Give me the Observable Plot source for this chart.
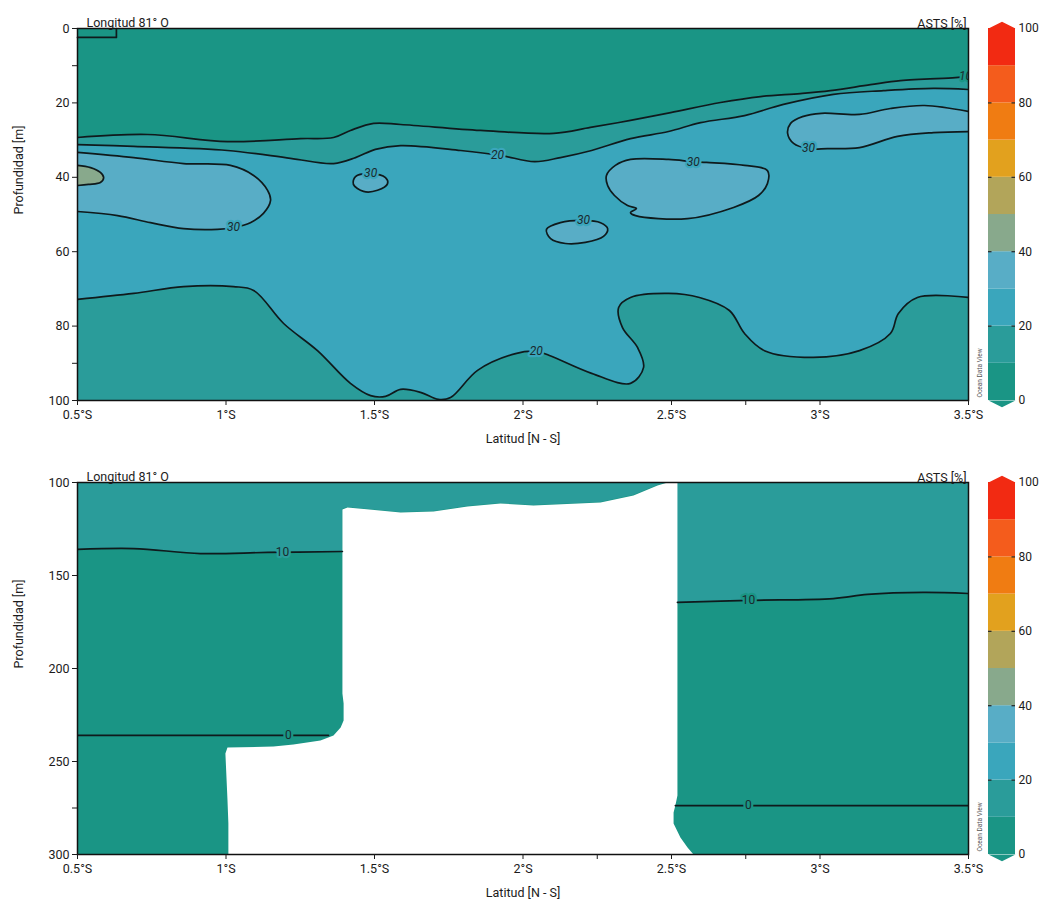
<!DOCTYPE html>
<html>
<head>
<meta charset="utf-8">
<script src="https://cdn.jsdelivr.net/npm/d3@7"></script>
<script src="https://cdn.jsdelivr.net/npm/@observablehq/plot@0.6"></script>
<style>
  body { margin: 0; background: #fff; }
  #wrap { position: relative; width: 1041px; height: 905px; overflow: hidden; }
  #wrap svg { position: absolute; overflow: visible; }
</style>
</head>
<body>
<div id="wrap"></div>
<script>
// ---------- scale / colour definitions ----------
const FONT = "Roboto, 'Noto Sans', 'DejaVu Sans', sans-serif";
const binEdges = [0, 10, 20, 30, 40, 50, 60, 70, 80, 90, 100];
const binColors = ["#1a9585", "#2a9c9a", "#3aa6bc", "#58adc6", "#88a98c", "#b2a55a", "#e2a11e", "#f07c12", "#f45c1c", "#f22a12"];
const cbTicks = [0, 20, 40, 60, 80, 100];

const latTicks = [0.5, 1, 1.5, 2, 2.25, 2.5, 2.75, 3, 3.5];
const latLabelled = [0.5, 1, 1.5, 2, 2.5, 3, 3.5];
const depthTicksTop = [0, 10, 20, 40, 60, 80, 90, 100];
const depthLabelsTop = [0, 20, 40, 60, 80, 100];
const depthTicksBot = [100, 150, 200, 250, 275, 300];
const depthLabelsBot = [100, 150, 200, 250, 300];

// ---------- upper section (0-100 m): contours as [lat °S, depth m] ----------
const top10 = [[0.5,29.3],[0.736,28.5],[1.005,30.4],[1.251,29.6],[1.362,29.3],[1.419,27.4],[1.497,25.5],[1.588,25.8],[1.857,27.4],[2.103,28.2],[2.227,26.6],[2.362,24.7],[2.497,22.6],[2.665,19.9],[2.800,18.3],[2.934,17.5],[3.035,16.7],[3.170,15.1],[3.271,14.0],[3.456,13.2],[3.5,12.9]];
const top20 = [[0.5,31.2],[0.689,31.7],[1.005,32.8],[1.217,34.9],[1.362,36.3],[1.436,34.7],[1.503,32.5],[1.588,31.5],[1.790,32.8],[1.924,34.1],[2.039,35.8],[2.126,34.7],[2.231,32.8],[2.362,29.6],[2.490,27.7],[2.598,25.3],[2.746,23.4],[2.877,20.4],[3.045,17.7],[3.214,16.7],[3.382,16.1],[3.5,16.4]];
const top20deep = [[0.5,72.8],[0.689,71.2],[0.857,69.4],[1.025,69.4],[1.093,70.4],[1.194,79.3],[1.308,86.6],[1.419,95.4],[1.487,98.7],[1.537,98.9],[1.588,97.0],[1.655,97.8],[1.715,99.7],[1.756,99.2],[1.847,91.9],[1.975,87.4],[2.045,86.8],[2.089,87.9],[2.231,92.7],[2.362,95.4],[2.406,91.1],[2.386,85.8],[2.335,80.4],[2.322,75.0],[2.362,72.3],[2.490,71.2],[2.594,72.3],[2.695,75.8],[2.746,82.0],[2.813,86.6],[2.978,88.4],[3.133,86.6],[3.237,82.0],[3.264,76.6],[3.328,72.3],[3.5,72.3]];
const top30west = [[0.5,33.3],[0.689,34.7],[0.857,36.3],[1.015,36.8],[1.093,39.5],[1.140,43.5],[1.150,46.2],[1.126,49.7],[1.082,52.2],[1.025,53.5],[0.971,54.0],[0.857,53.8],[0.746,52.2],[0.635,50.3],[0.5,49.2]];
const top30a = [[1.436,39.8],[1.429,41.9],[1.463,43.8],[1.510,43.5],[1.544,41.7],[1.537,40.1],[1.487,39.0]];
const top30b = [[2.362,35.2],[2.311,36.8],[2.281,39.5],[2.285,42.2],[2.308,44.9],[2.352,47.6],[2.382,48.4],[2.362,49.5],[2.379,50.3],[2.554,51.1],[2.709,48.1],[2.793,44.9],[2.823,41.7],[2.823,38.2],[2.746,36.8],[2.618,36.0],[2.573,35.8],[2.490,35.2]];
const top30c = [[2.079,54.0],[2.126,52.2],[2.204,51.6],[2.261,52.2],[2.285,53.8],[2.271,55.9],[2.210,57.5],[2.143,57.8],[2.093,56.5]];
const top30east = [[3.5,22.3],[3.352,20.7],[3.237,21.5],[3.133,23.1],[3.005,22.8],[2.941,23.7],[2.901,25.5],[2.891,28.2],[2.911,30.9],[2.961,32.3],[3.025,32.3],[3.133,32.0],[3.261,29.0],[3.382,28.0],[3.5,27.7]];
const top40 = [[0.5,36.8],[0.544,37.4],[0.577,38.7],[0.588,40.1],[0.577,41.4],[0.537,41.9],[0.5,42.2]];
const topBox = [[0.5,2.4],[0.631,2.4],[0.631,0]];
const topLabels = [["10",3.49,12.9,0],["20",1.914,34.1,2],["30",1.025,53.5,2],["30",1.487,39.0,2],["30",2.573,35.8,2],["30",2.204,51.6,2],["30",2.961,32.3,2],["20",2.045,86.8,2]];

// ---------- lower section (100-300 m) ----------
const bot10west = [[0.5,136.0],[0.689,135.5],[0.914,138.2],[1.140,137.6],[1.392,137.1]];
const bot10east = [[2.520,164.5],[2.759,163.4],[3.045,162.4],[3.160,160.2],[3.348,159.1],[3.5,159.7]];
const bot0west = [[0.5,236.0],[1.345,236.0]];
const bot0east = [[2.513,273.7],[3.5,273.7]];
const botNoData = [[1.392,114.5],[1.409,113.4],[1.588,116.1],[1.699,115.6],[1.813,112.9],[1.924,111.3],[2.035,112.4],[2.261,110.8],[2.372,107.0],[2.453,101.6],[2.487,100],[2.520,100],[2.520,268.3],[2.513,273.7],[2.507,277.4],[2.507,283.3],[2.530,290.9],[2.554,296.2],[2.574,300],[1.008,300],[1.008,283.3],[1.005,270.9],[0.998,245.7],[1.005,242.5],[1.160,242.0],[1.227,240.9],[1.318,238.7],[1.362,236.0],[1.386,231.7],[1.396,228.0],[1.396,218.8],[1.392,213.4]];
const botLabels = [["10",1.190,137.6,1],["10",2.759,163.4,0],["0",1.210,236.0,0],["0",2.759,273.7,0]];

// ---------- helpers ----------
const P = a => a.map(([lat, depth]) => ({lat, depth}));
const L = a => a.map(([text, lat, depth, bg]) => ({text, lat, depth, bg: binColors[bg]}));
const LINE = "#0f1a1c";
const style = {fontFamily: FONT, fontSize: "12.5px", color: "#1b1b1b", background: "transparent", overflow: "visible"};
const wrap = document.getElementById("wrap");

function place(svg, left, top) { svg.style.left = left + "px"; svg.style.top = top + "px"; wrap.appendChild(svg); }

function contour(a, closed) {
  return Plot.line(P(a), {x: "lat", y: "depth", stroke: LINE, strokeWidth: 1.7, curve: closed ? "catmull-rom-closed" : "catmull-rom", clip: true});
}
function patch(a, fill, closed) {
  return Plot.line(P(a), {x: "lat", y: "depth", fill, stroke: "none", curve: closed ? "catmull-rom-closed" : "catmull-rom", clip: true});
}
function labels(a, italic) {
  return Plot.text(L(a), {x: "lat", y: "depth", text: "text", fill: "#1b2a2e", stroke: "bg", strokeWidth: 4.5, paintOrder: "stroke", fontSize: 12, fontStyle: italic ? "italic" : "normal", clip: true});
}

function panel({yDomain, height, marginTop, marginBottom, yTicks, yLabels, marks}) {
  return Plot.plot({
    width: 975, height, marginLeft: 77, marginRight: 7, marginTop, marginBottom,
    x: {domain: [0.5, 3.5]},
    y: {domain: yDomain, reverse: true},
    color: {type: "identity"},
    style,
    marks: [
      ...marks,
      Plot.frame({stroke: "#111", strokeWidth: 1.5}),
      Plot.axisX({ticks: latTicks, tickFormat: d => latLabelled.includes(d) ? `${d}°S` : "", tickSize: 5, tickPadding: 5, label: null}),
      Plot.axisY({ticks: yTicks, tickFormat: d => yLabels.includes(d) ? String(d) : "", tickSize: 5, tickPadding: 3, label: null}),
      Plot.text(["Latitud [N - S]"], {frameAnchor: "bottom", dy: 42, fontSize: 12.5}),
      Plot.text(["Profundidad [m]"], {frameAnchor: "left", dx: -59, rotate: -90, fontSize: 12.5}),
      Plot.text(["Longitud 81° O"], {frameAnchor: "top-left", dx: 9, dy: -10, textAnchor: "start"}),
      Plot.text(["ASTS [%]"], {frameAnchor: "top-right", dx: -2, dy: -9, textAnchor: "end"}),
      Plot.text(["Ocean Data View"], {frameAnchor: "bottom-right", dx: 13, dy: -3, rotate: -90, textAnchor: "start", fontSize: 6.5, fill: "#555"})
    ]
  });
}

function colorbar(height, marginTop, marginBottom) {
  const bins = binColors.map((fill, i) => ({lo: binEdges[i], hi: binEdges[i + 1], fill}));
  const TIP = 1.8;
  const tipTop = [{x: 0, v: 100}, {x: 0.5, v: 100 + TIP}, {x: 1, v: 100}];
  const tipBot = [{x: 0, v: 0}, {x: 0.5, v: -TIP}, {x: 1, v: 0}];
  const inner = cbTicks.slice(1, -1);
  return Plot.plot({
    width: 66, height, marginTop, marginBottom, marginLeft: 13, marginRight: 26,
    x: {domain: [0, 1], axis: null},
    y: {domain: [0, 100], axis: null},
    color: {type: "identity"},
    style: {...style, fontSize: "12px"},
    marks: [
      Plot.rect(bins, {x1: 0, x2: 1, y1: "lo", y2: "hi", fill: "fill"}),
      Plot.line(tipTop, {x: "x", y: "v", fill: binColors[9], stroke: "none"}),
      Plot.line(tipBot, {x: "x", y: "v", fill: binColors[0], stroke: "none"}),
      Plot.ruleY(inner, {x1: 0, x2: 0.13, stroke: "#222", strokeWidth: 1.2}),
      Plot.ruleY(inner, {x1: 0.87, x2: 1, stroke: "#222", strokeWidth: 1.2}),
      Plot.axisY({anchor: "right", ticks: cbTicks, tickSize: 0, tickPadding: 3, label: null})
    ]
  });
}

// ---------- upper panel ----------
const c = binColors;
const deepPoly = [...top20deep, [3.6, 72.3], [3.6, 110], [0.4, 110], [0.4, 72.8]];
const topPanel = panel({
  yDomain: [0, 100], height: 455, marginTop: 28, marginBottom: 55,
  yTicks: depthTicksTop, yLabels: depthLabelsTop,
  marks: [
    Plot.frame({fill: c[2], stroke: null}),
    Plot.areaY(P(top20), {x: "lat", y1: 0, y2: "depth", fill: c[1], curve: "catmull-rom", clip: true}),
    Plot.areaY(P(top10), {x: "lat", y1: 0, y2: "depth", fill: c[0], curve: "catmull-rom", clip: true}),
    patch(deepPoly, c[1], false),
    patch(top30west, c[3], false),
    patch(top30east, c[3], false),
    patch(top30a, c[3], true),
    patch(top30b, c[3], true),
    patch(top30c, c[3], true),
    patch(top40, c[4], false),
    contour(top10), contour(top20), contour(top20deep),
    contour(top30west), contour(top30east), contour(top30a, true), contour(top30b, true), contour(top30c, true),
    contour(top40),
    Plot.line(P(topBox), {x: "lat", y: "depth", stroke: LINE, strokeWidth: 1.7}),
    labels(topLabels, true)
  ]
});
place(topPanel, 0, 0);
place(colorbar(455, 28, 55), 975, 0);

// ---------- lower panel ----------
const upperEdge = [...bot10west, ...botNoData.slice(0, 11), ...bot10east];
const botPanel = panel({
  yDomain: [100, 300], height: 450, marginTop: 27, marginBottom: 51,
  yTicks: depthTicksBot, yLabels: depthLabelsBot,
  marks: [
    Plot.frame({fill: c[0], stroke: null}),
    Plot.areaY(P(upperEdge), {x: "lat", y1: 100, y2: "depth", fill: c[1], clip: true}),
    Plot.line(P(botNoData), {x: "lat", y: "depth", fill: "#ffffff", stroke: "none", clip: true}),
    contour(bot10west), contour(bot10east), contour(bot0west), contour(bot0east),
    labels(botLabels, false)
  ]
});
place(botPanel, 0, 455);
place(colorbar(450, 27, 51), 975, 455);
</script>
</body>
</html>
